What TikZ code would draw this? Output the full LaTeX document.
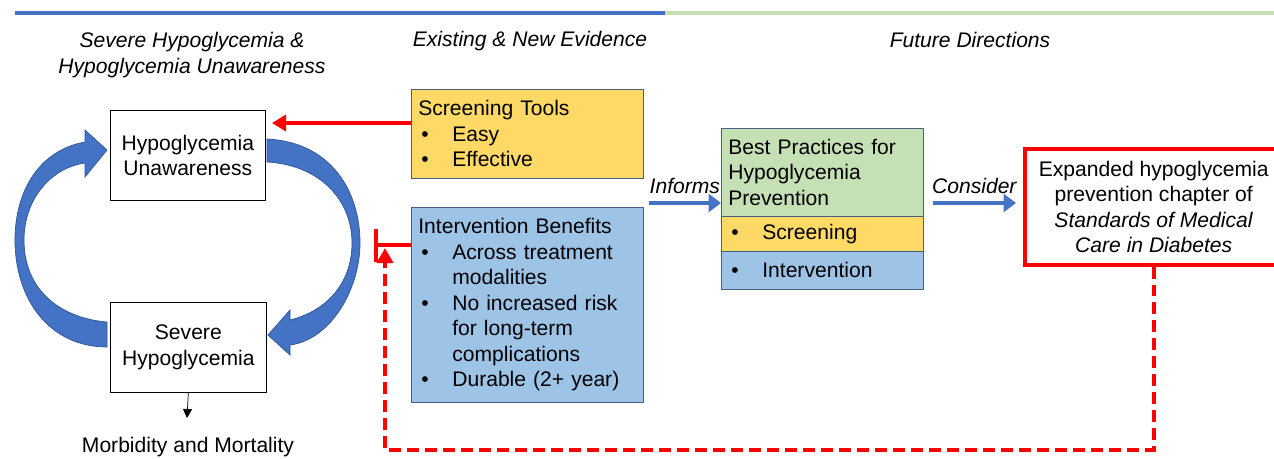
\documentclass[tikz,border=0pt]{standalone}
\usepackage{fontspec}
\setmainfont{Liberation Sans}
\usetikzlibrary{arrows.meta}
\definecolor{barblue}{RGB}{68,114,196}
\definecolor{bargreen}{RGB}{197,224,180}
\definecolor{boxyellow}{RGB}{255,217,102}
\definecolor{boxblue}{RGB}{157,195,230}
\definecolor{boxedge}{RGB}{70,95,130}
\definecolor{loopblue}{RGB}{68,114,196}
\definecolor{loopdark}{RGB}{47,85,151}
\newcommand{\itm}{\hspace*{0.06cm}\makebox[0.62cm][l]{\textbullet}}
\newcommand{\ind}{\hspace*{0.68cm}}
\begin{document}
\begin{tikzpicture}[x=0.02cm,y=-0.02cm,
    every node/.style={font=\fontsize{12}{14.5}\selectfont},
    head/.style={font=\fontsize{12}{14.5}\selectfont\itshape, align=center},
    plain/.style={draw, thin, align=center, anchor=north west},
    evbox/.style={draw=boxedge, thin, align=left, anchor=north west, inner xsep=0.14cm},
    lbl/.style={text=black, font=\fontsize{12}{14.5}\selectfont\itshape},
    redarr/.style={red, line width=2.2pt, -{Triangle[length=0.28cm,width=0.32cm]}},
    bluearr/.style={barblue, line width=2.2pt, -{Triangle[length=0.25cm,width=0.36cm]}}]
  \useasboundingbox (0,0) rectangle (1274,458);

  % top bar
  \draw[barblue, line width=2.8pt] (15,13) -- (665,13);
  \draw[bargreen, line width=2.8pt] (665,13) -- (1274,13);

  % headings
  \node[head] (h1) at (192,55) {Severe Hypoglycemia \&\\Hypoglycemia Unawareness};
  \node[head] (h2) at (530,41) {Existing \& New Evidence};
  \node[head] (h3) at (970,40) {Future Directions};

  % the cycle
  \node[plain, minimum width=3.1cm, minimum height=1.8cm] (hu) at (110,110) {Hypoglycemia\\Unawareness};
  \node[plain, minimum width=3.12cm, minimum height=1.8cm] (sh) at (110,302) {Severe\\Hypoglycemia};
  \node (mm) at (188,447) {Morbidity and Mortality};
  \draw[-{Triangle[length=0.18cm,width=0.18cm]}] (sh.south) -- (187,418);

  \fill[loopblue, draw=loopdark] (107,322) .. controls (60,318) and (24,290) .. (24,240)
    .. controls (24,200) and (50,168) .. (85,163) -- (85,177) -- (107,150) -- (85,130)
    -- (85,142) .. controls (40,150) and (15,190) .. (15,240)
    .. controls (15,300) and (50,347) .. (107,347) -- cycle;
  \fill[loopblue, draw=loopdark] (267,139) .. controls (330,142) and (360,190) .. (360,243)
    .. controls (360,290) and (330,340) .. (290,345) -- (290,355) -- (268,335) -- (290,310)
    -- (290,320) .. controls (330,310) and (352,280) .. (352,243)
    .. controls (352,200) and (320,165) .. (267,162) -- cycle;

  % evidence
  \node[evbox, fill=boxyellow, text width=4.36cm, minimum height=1.78cm] (scr) at (411,89)
    {Screening Tools\\\itm Easy\\\itm Effective};
  \node[evbox, fill=boxblue, text width=4.36cm, minimum height=3.9cm] (ib) at (411,207)
    {Intervention Benefits\\\itm Across treatment\\\ind modalities\\\itm No increased risk\\\ind for long-term\\\ind complications\\\itm Durable (2+ year)};

  \draw[redarr] (scr.west |- 0,123) -- (272,123);
  \coordinate (blk) at (376,245);
  \coordinate (blktop) at (376,229);
  \coordinate (blkbot) at (376,262);
  \draw[red, line width=2.2pt] (ib.west |- 0,245) -- (blk);
  \draw[red, line width=2.6pt] (blktop) -- (blkbot);

  % best practices
  \node[evbox, fill=bargreen, text width=3.76cm, minimum height=1.76cm] (bp) at (721,128)
    {Best Practices for\\Hypoglycemia\\Prevention};
  \node[evbox, fill=boxyellow, text width=3.76cm, minimum height=0.7cm] (bps) at (721,216)
    {\itm Screening};
  \node[evbox, fill=boxblue, text width=3.76cm, minimum height=0.76cm] (bpi) at (721,251)
    {\itm Intervention};

  \draw[bluearr] (ib.east |- 0,203) ++(5,0) -- (bp.west |- 0,203) node[midway, above=1pt, lbl] (inf) {Informs};

  % future
  \node[draw=red, line width=2pt, align=center, anchor=north west, minimum width=5.16cm, minimum height=2.32cm] (exp) at (1023,147)
    {Expanded hypoglycemia\\prevention chapter of\\\textit{Standards of Medical}\\\textit{Care in Diabetes}};

  \draw[bluearr] (bp.east |- 0,203) ++(9,0) -- (1016,203) node[midway, above=1pt, lbl] (con) {Consider};

  \coordinate (dtip) at (385,248);
  \draw[red, line width=2.2pt, dash pattern=on 0.24cm off 0.12cm, -{Triangle[length=0.3cm,width=0.32cm]}]
    (exp.south) -- (exp.south |- 0,450) -| (dtip);
\end{tikzpicture}
\end{document}
